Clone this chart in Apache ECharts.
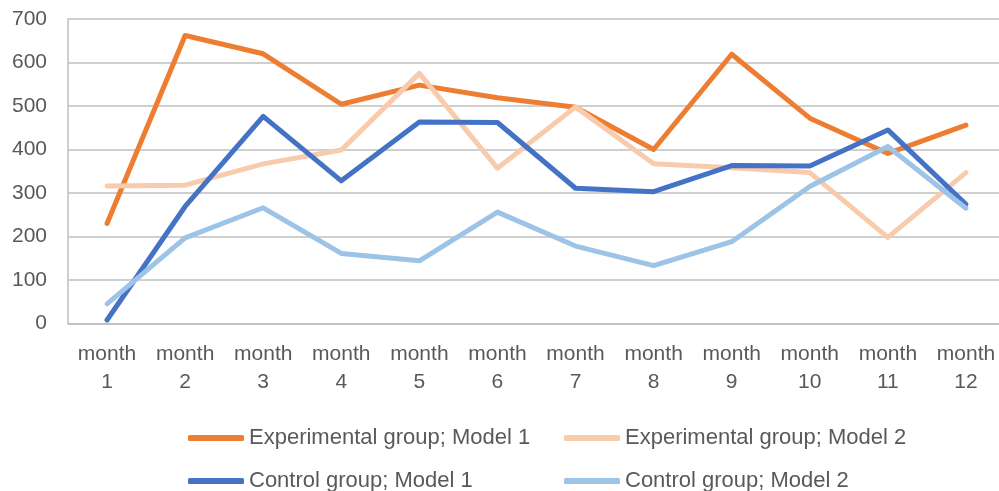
<!DOCTYPE html>
<html>
<head>
<meta charset="utf-8">
<script src="https://cdn.jsdelivr.net/npm/echarts@6/dist/echarts.min.js"></script>
<style>
  html, body { margin: 0; padding: 0; background: #fff; }
  #chart { width: 999px; height: 491px; }
</style>
</head>
<body>
<div id="chart"></div>
<script>
const months = ['month 1', 'month 2', 'month 3', 'month 4', 'month 5', 'month 6',
  'month 7', 'month 8', 'month 9', 'month 10', 'month 11', 'month 12'];
const expModel1 = [230, 662, 620, 504, 548, 519, 497, 400, 619, 472, 391, 456];
const expModel2 = [316, 318, 367, 399, 575, 357, 498, 367, 358, 347, 198, 347];
const ctrlModel1 = [8, 269, 476, 328, 463, 462, 311, 303, 363, 362, 445, 274];
const ctrlModel2 = [45, 197, 266, 161, 144, 256, 178, 133, 188, 315, 407, 265];

const font = 'Liberation Sans';
const grey = '#595959';

const chart = echarts.init(document.getElementById('chart'), null, { renderer: 'canvas' });

const mkLine = (name, data, color) => ({
  name: name,
  type: 'line',
  data: data,
  symbol: 'none',
  animation: false,
  lineStyle: { color: color, width: 5, cap: 'round', join: 'round' },
  itemStyle: { color: color },
});

// one legend per entry, placed in a 2x2 grid below the chart
const mkLegend = (name, left, top) => ({
  data: [name],
  left: left,
  top: top,
  padding: 0,
  itemWidth: 56,
  itemHeight: 6,
  icon: 'roundRect',
  textStyle: { fontFamily: font, fontSize: 22, color: grey },
});

const option = {
  backgroundColor: '#fff',
  grid: { left: 68, right: -6, top: 19, bottom: 167.5, outerBoundsMode: 'none' },
  legend: [
    mkLegend('Experimental group; Model 1', 188, 427),
    mkLegend('Experimental group; Model 2', 564, 427),
    mkLegend('Control group; Model 1', 188, 470),
    mkLegend('Control group; Model 2', 564, 470),
  ],
  xAxis: {
    type: 'category',
    data: months,
    boundaryGap: true,
    axisLine: { show: true, lineStyle: { color: '#BFBFBF', width: 1.5 } },
    axisTick: { show: false },
    axisLabel: {
      color: grey,
      fontFamily: font,
      fontSize: 21,
      lineHeight: 28,
      margin: 17,
      interval: 0,
      formatter: (v) => v.replace(' ', '\n'),
    },
  },
  yAxis: {
    type: 'value',
    min: 0,
    max: 700,
    interval: 100,
    axisLine: { show: true, lineStyle: { color: '#BFBFBF', width: 1.5 } },
    axisTick: { show: false },
    splitLine: { lineStyle: { color: '#BFBFBF', width: 1.5 } },
    axisLabel: { color: grey, fontFamily: font, fontSize: 21, margin: 21 },
  },
  series: [
    mkLine('Experimental group; Model 1', expModel1, '#ED7D31'),
    mkLine('Experimental group; Model 2', expModel2, '#F8CBAD'),
    mkLine('Control group; Model 1', ctrlModel1, '#4472C4'),
    mkLine('Control group; Model 2', ctrlModel2, '#9DC3E6'),
  ],
};

chart.setOption(option);
</script>
</body>
</html>
